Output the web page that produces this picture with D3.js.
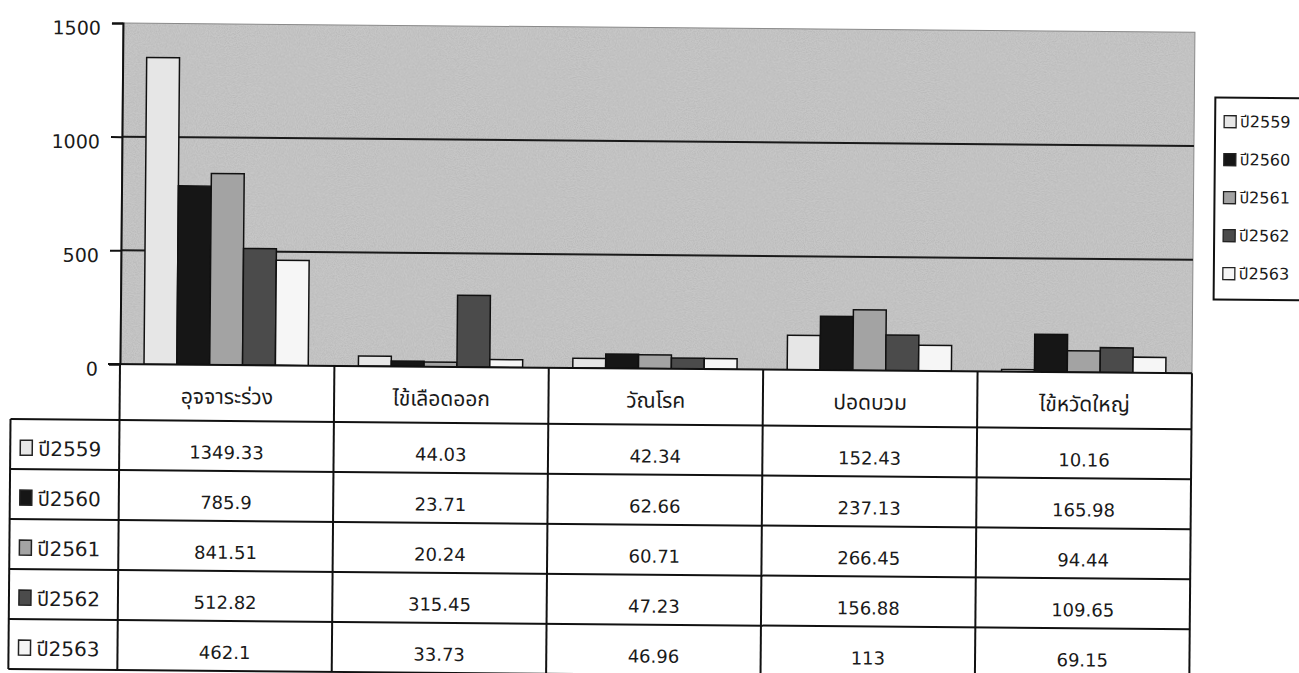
<!DOCTYPE html>
<html>
<head>
<meta charset="utf-8">
<script src="https://cdn.jsdelivr.net/npm/d3@7"></script>
<style>
  body { margin: 0; background: #fff; }
  svg { display: block; }
  text { font-family: Tahoma, "DejaVu Sans", "Noto Sans Thai", sans-serif; fill: #1a1a1a; }
</style>
</head>
<body>
<svg id="chart" width="1299" height="673"></svg>
<script>
// data
var categories = ["อุจจาระร่วง", "ไข้เลือดออก", "วัณโรค", "ปอดบวม", "ไข้หวัดใหญ่"];
var years = ["ปี2559", "ปี2560", "ปี2561", "ปี2562", "ปี2563"];
var v2559 = [1349.33, 44.03, 42.34, 152.43, 10.16];
var v2560 = [785.9, 23.71, 62.66, 237.13, 165.98];
var v2561 = [841.51, 20.24, 60.71, 266.45, 94.44];
var v2562 = [512.82, 315.45, 47.23, 156.88, 109.65];
var v2563 = [462.1, 33.73, 46.96, 113, 69.15];
var yTicks = [0, 500, 1000, 1500];
var fills = ["#e6e6e6", "#161616", "#a3a3a3", "#4b4b4b", "#f6f6f6"];

var series = [v2559, v2560, v2561, v2562, v2563];

var plotLeft = 120, plotRight = 1192, plotTop = 23, zeroY = 364,
    headH = 56, rowH = 50, labelX = 11,
    plotBg = "#c6c6c6";

var svg = d3.select("#chart");

// speckle so the plot area reads like the scanned grey
var defs = svg.append("defs");
var flt = defs.append("filter").attr("id", "grain")
    .attr("x", 0).attr("y", 0).attr("width", 1).attr("height", 1);
flt.append("feTurbulence")
    .attr("type", "fractalNoise").attr("baseFrequency", 0.9)
    .attr("numOctaves", 2).attr("seed", 3).attr("result", "n");
flt.append("feColorMatrix").attr("in", "n").attr("type", "matrix")
    .attr("values", "0 0 0 0 0  0 0 0 0 0  0 0 0 0 0  0 0 0 -1.2 0.75");

// the scan is a little crooked, so tilt everything about the axis origin
var g = svg.append("g")
    .attr("transform", "rotate(0.5," + plotLeft + "," + zeroY + ")");

var x0 = d3.scaleBand().domain(categories).range([plotLeft, plotRight]);
var x1 = d3.scaleBand().domain(years)
    .range([x0.bandwidth() * 0.112, x0.bandwidth() * 0.878]);
var y = d3.scaleLinear().domain([0, 1500]).range([zeroY, plotTop]);

// plot area
g.append("rect")
    .attr("x", plotLeft).attr("y", plotTop)
    .attr("width", plotRight - plotLeft).attr("height", zeroY - plotTop)
    .style("fill", plotBg);
g.append("rect")
    .attr("x", plotLeft).attr("y", plotTop)
    .attr("width", plotRight - plotLeft).attr("height", zeroY - plotTop)
    .style("fill", "#000").style("opacity", 0.12)
    .attr("filter", "url(#grain)");
g.append("rect")
    .attr("x", plotLeft).attr("y", plotTop)
    .attr("width", plotRight - plotLeft).attr("height", zeroY - plotTop)
    .style("fill", "none")
    .style("stroke", "#8a8a8a").style("stroke-width", 1);

// grid lines
g.selectAll(".grid")
    .data(yTicks.filter(function(d) { return d > 0 && d < 1500; }))
  .enter().append("line")
    .attr("x1", plotLeft).attr("x2", plotRight)
    .attr("y1", function(d) { return y(d); })
    .attr("y2", function(d) { return y(d); })
    .style("stroke", "#1a1a1a").style("stroke-width", 2);

// bars
var cat = g.selectAll(".cat")
    .data(categories)
  .enter().append("g")
    .attr("transform", function(d) { return "translate(" + x0(d) + ",0)"; });

cat.selectAll("rect")
    .data(function(d, i) {
        return years.map(function(yr, j) { return {year: yr, value: series[j][i], k: j}; });
    })
  .enter().append("rect")
    .attr("x", function(d) { return x1(d.year); })
    .attr("width", x1.bandwidth())
    .attr("y", function(d) { return y(d.value); })
    .attr("height", function(d) { return zeroY - y(d.value); })
    .style("fill", function(d) { return fills[d.k]; })
    .style("stroke", "#111").style("stroke-width", 1.5);

// y axis
var yAxis = d3.axisLeft(y).tickValues(yTicks).tickFormat(d3.format("d"))
    .tickSize(11).tickPadding(11);
var ya = g.append("g")
    .attr("transform", "translate(" + plotLeft + ",0)")
    .call(yAxis);
ya.select(".domain").style("stroke", "#111").style("stroke-width", 2);
ya.selectAll(".tick line").style("stroke", "#111").style("stroke-width", 2);
ya.selectAll(".tick text")
    .attr("dy", "0.6em")
    .style("font-size", "19px")
    .style("font-family", "Tahoma, 'DejaVu Sans', sans-serif")
    .style("fill", "#1a1a1a");

// data table
var tableTop = zeroY, rowsTop = zeroY + headH,
    tableBottom = rowsTop + rowH * years.length;

var tbl = g.append("g");

tbl.append("rect")
    .attr("x", plotLeft).attr("y", tableTop)
    .attr("width", plotRight - plotLeft).attr("height", headH)
    .style("fill", "#fff");
tbl.append("rect")
    .attr("x", labelX).attr("y", rowsTop)
    .attr("width", plotRight - labelX).attr("height", tableBottom - rowsTop)
    .style("fill", "#fff");

// vertical rules
var colEdges = categories.map(function(c) { return x0(c); }).concat([plotRight]);
tbl.selectAll(".vcol")
    .data(colEdges)
  .enter().append("line")
    .attr("x1", function(d) { return d; }).attr("x2", function(d) { return d; })
    .attr("y1", tableTop).attr("y2", tableBottom)
    .style("stroke", "#111").style("stroke-width", 2);
tbl.append("line")
    .attr("x1", labelX).attr("x2", labelX)
    .attr("y1", rowsTop).attr("y2", tableBottom)
    .style("stroke", "#111").style("stroke-width", 2);

// horizontal rules
var rowEdges = d3.range(years.length + 1).map(function(i) { return rowsTop + i * rowH; });
tbl.selectAll(".hrow")
    .data(rowEdges)
  .enter().append("line")
    .attr("x1", labelX).attr("x2", plotRight)
    .attr("y1", function(d) { return d; }).attr("y2", function(d) { return d; })
    .style("stroke", "#111").style("stroke-width", 2);
tbl.append("line")
    .attr("x1", plotLeft - 12).attr("x2", plotRight)
    .attr("y1", zeroY).attr("y2", zeroY)
    .style("stroke", "#111").style("stroke-width", 2);

// header
tbl.selectAll(".head")
    .data(categories)
  .enter().append("text")
    .attr("x", function(d) { return x0(d) + x0.bandwidth() / 2; })
    .attr("y", tableTop + headH / 2 + 5)
    .attr("text-anchor", "middle")
    .attr("dominant-baseline", "middle")
    .style("font-size", "21px")
    .text(function(d) { return d; });

// row labels with swatches
var rowLab = tbl.selectAll(".rowlab")
    .data(years)
  .enter().append("g")
    .attr("transform", function(d, i) { return "translate(" + labelX + "," + (rowsTop + i * rowH + rowH / 2 + 4) + ")"; });
rowLab.append("rect")
    .attr("x", 10).attr("y", -8).attr("width", 12).attr("height", 15)
    .style("fill", function(d, i) { return fills[i]; })
    .style("stroke", "#222").style("stroke-width", 1.5);
rowLab.append("text")
    .attr("x", 28).attr("y", 2)
    .attr("dominant-baseline", "middle")
    .style("font-size", "20px")
    .text(function(d) { return d; });

// cell values
years.forEach(function(yr, j) {
    tbl.selectAll(".val" + j)
        .data(series[j])
      .enter().append("text")
        .attr("x", function(d, i) { return x0(categories[i]) + x0.bandwidth() / 2; })
        .attr("y", rowsTop + j * rowH + rowH / 2 + 8)
        .attr("text-anchor", "middle")
        .attr("dominant-baseline", "middle")
        .style("font-size", "18px")
        .text(function(d) { return String(d); });
});

// legend
var leg = g.append("g").attr("transform", "translate(1213,88)");
leg.append("rect")
    .attr("x", 0).attr("y", 0).attr("width", 100).attr("height", 202)
    .style("fill", "#fff").style("stroke", "#111").style("stroke-width", 2);
var li = leg.selectAll(".li")
    .data(years)
  .enter().append("g")
    .attr("transform", function(d, i) { return "translate(0," + (24 + i * 38) + ")"; });
li.append("rect")
    .attr("x", 9).attr("y", -6).attr("width", 12).attr("height", 12)
    .style("fill", function(d, i) { return fills[i]; })
    .style("stroke", "#222").style("stroke-width", 1.3);
li.append("text")
    .attr("x", 25).attr("y", 1)
    .attr("dominant-baseline", "middle")
    .style("font-size", "16px")
    .text(function(d) { return d; });
</script>
</body>
</html>
